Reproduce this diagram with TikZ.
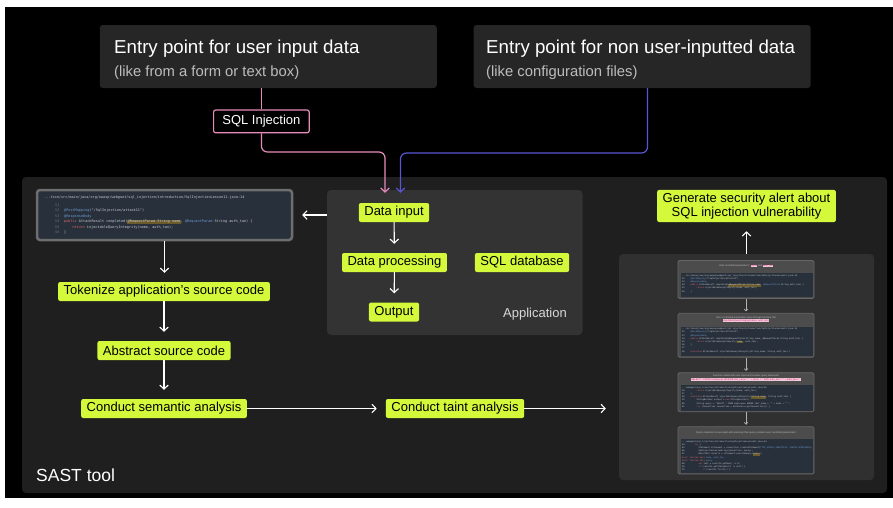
\documentclass[tikz,border=0pt]{standalone}
\usepackage{fontspec}
\setmainfont{Liberation Sans}
\setmonofont{DejaVu Sans Mono}
\usetikzlibrary{arrows.meta, positioning, calc}

\definecolor{sastbg}{HTML}{1F1F1F}
\definecolor{entrybg}{HTML}{262626}
\definecolor{appbg}{HTML}{333333}
\definecolor{scanbg}{HTML}{303030}
\definecolor{stepfill}{HTML}{D4F93B}
\definecolor{injpink}{HTML}{E68CBB}
\definecolor{cfgblue}{HTML}{5A55D2}
\definecolor{subgray}{HTML}{BDBDBD}
\definecolor{codebg}{HTML}{28303B}
\definecolor{codeframe}{HTML}{6E6E6E}
\definecolor{thumbfill}{HTML}{4C4C4C}
\definecolor{thumbframe}{HTML}{666666}
\definecolor{codetext}{HTML}{C8CCD2}
\definecolor{linenum}{HTML}{6A7280}
\definecolor{kwred}{HTML}{D9686B}
\definecolor{annblue}{HTML}{6C9BD2}
\definecolor{hlolive}{HTML}{6B5A2A}
\definecolor{hlpink}{HTML}{F4C9DC}
\definecolor{hlred}{HTML}{C3306B}

\newcommand{\taintmark}[1]{{\fboxsep=0.3pt\colorbox{hlpink}{\textcolor{hlred}{#1}}}}
\newcommand{\srcmark}[1]{{\fboxsep=0.4pt\colorbox{hlolive}{#1}}}

\begin{document}
\begin{tikzpicture}[
    x=1pt, y=-1pt,
    stepnode/.style={fill=stepfill, text=black, rounded corners=2pt, inner xsep=5.5pt, inner ysep=0pt,
        minimum height=19pt, font=\fontsize{13}{14}\selectfont},
    flow/.style={white, line width=1.1pt, shorten >=9pt, -{Straight Barb[length=4pt,width=8.5pt]}},
    thinflow/.style={gray!60!white, line width=0.7pt, shorten >=1.5pt, -{Straight Barb[length=1.8pt,width=3.5pt]}},
    feed/.style={line width=1.2pt, rounded corners=6pt, shorten >=10pt, -{Straight Barb[length=4pt,width=8.5pt]}},
    panel/.style={inner sep=0pt, rounded corners=4pt},
    entrybox/.style={fill=entrybg, rounded corners=3pt, inner sep=0pt, minimum width=337pt, minimum height=63pt},
    titletext/.style={text=white, inner sep=0pt, font=\fontsize{18.7}{20}\selectfont},
    subtext/.style={text=subgray, inner sep=0pt, font=\fontsize{14.8}{16}\selectfont},
    codeshot/.style={fill=codebg, draw=codeframe, line width=2.5pt, rounded corners=3pt, inner sep=0pt},
    thumb/.style={fill=thumbfill, draw=thumbframe, line width=0.8pt, rounded corners=1.5pt, minimum width=136pt, inner sep=0pt},
    codearea/.style={fill=codebg, inner sep=0pt, minimum width=132pt},
    thumbhead/.style={text=subgray, font=\fontsize{2.5}{3.4}\selectfont, inner sep=0pt, align=center},
    thumbcode/.style={text=codetext, font=\ttfamily\fontsize{2.1}{3.2}\selectfont, inner sep=0pt, align=left, anchor=north west}
]

% Frame
\fill[white] (0,0) rectangle (893,507);
\fill[black] (5,7) rectangle (893,498);

% Entry points
\node[entrybox] (userentry) at (268.25,56.5) {};
\node[entrybox] (otherentry) at (642.1,56.5) {};
\node[titletext, anchor=base west] at (114,53) {Entry point for user input data};
\node[subtext, anchor=base west] at (114,76.5) {(like from a form or text box)};
\node[titletext, anchor=base west] at (486,53) {Entry point for non user-inputted data};
\node[subtext, anchor=base west] at (486,76.5) {(like configuration files)};

\node[draw=injpink, line width=1.2pt, rounded corners=2pt, text=white, inner sep=0pt,
      minimum width=95.6pt, minimum height=22.7pt, font=\fontsize{13}{14}\selectfont] (sqlinj) at (261.4,121.4) {SQL Injection};

% SAST tool
\node[panel, fill=sastbg, minimum width=865pt, minimum height=316pt] (sast) at (454.5,335) {};
\node[text=white, anchor=base west, inner sep=0pt, font=\fontsize{17.5}{19}\selectfont] at (36,481.5) {SAST tool};

% Application
\node[panel, fill=appbg, minimum width=255.5pt, minimum height=145pt] (app) at (454.75,262.5) {};
\node[stepnode] (datain) at (394,212.5) {Data input};
\node[stepnode] (dataproc) at (394.5,262.5) {Data processing};
\node[stepnode] (sqldb) at (522,262.5) {SQL database};
\node[stepnode] (output) at (394,312) {Output};
\node[text=white!85!black, anchor=base west, inner sep=0pt, font=\fontsize{13}{14}\selectfont] at (503,317.5) {Application};

% Feeds into the application
\coordinate (pinkturn) at (261.4,152);
\coordinate (blueturn) at (400.5,153);
\draw[injpink, line width=1.2pt] (sqlinj.north |- userentry.south) -- (sqlinj.north);
\draw[feed, injpink] (sqlinj.south) -- (pinkturn) -| ([xshift=-9pt]datain.north);
\draw[feed, cfgblue] ([xshift=5.4pt]otherentry.south) |- (blueturn) -- ([xshift=6.5pt]datain.north);

% Source code screenshot
\node[codeshot, minimum width=255pt, minimum height=50pt] (srccode) at (164.5,215) {};
\node[anchor=north west, inner sep=0pt, align=left, text=codetext, font=\ttfamily\fontsize{3.5}{5.5}\selectfont]
    at (44,195.3) {%
    ...tion/src/main/java/org/owasp/webgoat/sql\_injection/introduction/SqlInjectionLesson11.java:14\\[2.5pt]
    \hspace*{11pt}\makebox[9pt][l]{\color{linenum}51}\\
    \hspace*{11pt}\makebox[9pt][l]{\color{linenum}52}\textcolor{annblue}{@PostMapping}("/SqlInjection/attack11")\\
    \hspace*{11pt}\makebox[9pt][l]{\color{linenum}53}\textcolor{annblue}{@ResponseBody}\\
    \hspace*{11pt}\makebox[9pt][l]{\color{linenum}54}\textcolor{kwred}{public} AttackResult completed(\srcmark{@RequestParam String name}, \textcolor{annblue}{@RequestParam} String auth\_tan) \{\\
    \hspace*{11pt}\makebox[9pt][l]{\color{linenum}55}\hspace*{8pt}\textcolor{kwred}{return} injectableQueryIntegrity(name, auth\_tan);\\
    \hspace*{11pt}\makebox[9pt][l]{\color{linenum}56}\}};

% Left column
\node[stepnode] (tokenize) at (164,291.5) {Tokenize application's source code};
\node[stepnode] (abstract) at (164,350.5) {Abstract source code};
\node[stepnode] (semantic) at (164,408.5) {Conduct semantic analysis};
\node[stepnode] (taint) at (455,408.5) {Conduct taint analysis};

% Scan results
\node[panel, fill=scanbg, minimum width=255pt, minimum height=226pt] (scan) at (746.5,367) {};
\node[stepnode, align=center, inner ysep=3pt, font=\fontsize{13}{14}\selectfont] (alert) at (746.5,206)
    {Generate security alert about\\SQL injection vulnerability};

\node[thumb, minimum height=38pt] (thumb1) at (746,279.5) {};
\node[thumbhead] at (746,266) {User controlled parameters: \taintmark{name} and \taintmark{auth\_tan}};
\node[codearea, minimum height=24pt] (code1) at (746.5,285) {};
\node[thumbcode] at ([xshift=1.5pt,yshift=-1.5pt]code1.north west) {%
    .../src/main/java/org/owasp/webgoat/sql\_injection/introduction/SqlInjectionLesson11.java:14\\
    52\hspace{6pt}\textcolor{annblue}{@PostMapping}("/SqlInjection/attack11")\\
    53\hspace{6pt}\textcolor{annblue}{@ResponseBody}\\
    54\hspace{6pt}\textcolor{kwred}{public} AttackResult completed(\srcmark{@RequestParam String name}, \textcolor{annblue}{@RequestParam} String auth\_tan) \{\\
    55\hspace{12pt}\textcolor{kwred}{return} injectableQueryIntegrity(name, auth\_tan);\\
    56\hspace{6pt}\}};

\node[thumb, minimum height=44pt] (thumb2) at (746,335.3) {};
\node[thumbhead] at (746,319.3) {User controlled parameters pass through function call\\\taintmark{injectableQueryIntegrity(name, auth\_tan)}};
\node[codearea, minimum height=29.3pt] (code2) at (746.5,341.3) {};
\node[thumbcode] at ([xshift=1.5pt,yshift=-1.5pt]code2.north west) {%
    .../src/main/java/org/owasp/webgoat/sql\_injection/introduction/SqlInjectionLesson11.java:14\\
    52\hspace{6pt}\textcolor{annblue}{@PostMapping}("/SqlInjection/attack11")\\
    53\hspace{6pt}\textcolor{annblue}{@ResponseBody}\\
    54\hspace{6pt}\textcolor{kwred}{public} AttackResult completed(@RequestParam String name, @RequestParam String auth\_tan) \{\\
    55\hspace{12pt}\textcolor{kwred}{return} injectableQueryIntegrity(\srcmark{name}, auth\_tan);\\
    56\hspace{6pt}\}\\
    57\\
    58\hspace{6pt}\textcolor{kwred}{protected} AttackResult injectableQueryIntegrity(String name, String auth\_tan) \{};

\node[thumb, minimum height=39pt] (thumb3) at (746,392.2) {};
\node[thumbhead] at (746,378) {Function called with user input and creates query statement\\\taintmark{SELECT * FROM employees WHERE last\_name = '" + name + "' AND auth\_tan = '" + auth\_tan + "'}};
\node[codearea, minimum height=25.7pt] (code3) at (746.5,397.9) {};
\node[thumbcode] at ([xshift=1.5pt,yshift=-1.5pt]code3.north west) {%
    .../webgoat/sql\_injection/introduction/SqlInjectionLesson11.java:56\\
    56\hspace{12pt}\textcolor{kwred}{return} injectableQueryIntegrity(name, auth\_tan);\\
    57\hspace{6pt}\}\\
    58\hspace{6pt}\textcolor{kwred}{protected} AttackResult injectableQueryIntegrity(\srcmark{String name}, String auth\_tan) \{\\
    59\hspace{12pt}StringBuilder output = \textcolor{kwred}{new} StringBuilder();\\
    60\hspace{12pt}String query = "SELECT * FROM employees WHERE last\_name = '" + name + "'";\\
    61\hspace{12pt}\textcolor{kwred}{try} (Connection connection = dataSource.getConnection()) \{};

\node[thumb, minimum height=47.3pt] (thumb4) at (746,450.3) {};
\node[thumbhead] at (746,432.5) {Query statement is executed with warnings that query contains user controlled parameters};
\node[codearea, minimum height=33.7pt] (code4) at (746.5,455.8) {};
\node[thumbcode] at ([xshift=1.5pt,yshift=-1.5pt]code4.north west) {%
    .../webgoat/sql\_injection/introduction/SqlInjectionLesson11.java:64\\
    64\hspace{10pt}\textcolor{kwred}{try} \{\\
    65\hspace{14pt}Statement statement = connection.createStatement(\textcolor{annblue}{TYPE\_SCROLL\_SENSITIVE, CONCUR\_UPDATABLE});\\
    66\hspace{14pt}SqlInjectionLesson8.log(connection, query);\\
    67\hspace{14pt}ResultSet results = statement.executeQuery(\srcmark{query});\\
    \textcolor{kwred}{Sast: tainted data} \textcolor{annblue}{name, auth\_tan}\\
    \textcolor{kwred}{Sast: tainted data} \textcolor{annblue}{query}\\
    68\hspace{14pt}\textcolor{kwred}{var} test = results.getRow() != 0;\\
    69\hspace{14pt}\textcolor{kwred}{if} (results.getStatement() != null) \{\\
    70\hspace{18pt}\textcolor{kwred}{if} (results.first()) \{};

% Arrows
\draw[flow] (srccode.east -| app.west) -- (srccode.east);
\draw[flow] (datain) -- (dataproc);
\draw[flow] (dataproc) -- (output);
\draw[flow] (srccode.south) -- (srccode.south |- tokenize.north);
\draw[flow] (tokenize) -- (abstract);
\draw[flow] (abstract) -- (semantic);
\draw[flow] (semantic) -- (taint);
\draw[flow, shorten >=13pt] (taint.east) -- (taint.east -| scan.west);
\draw[flow] (scan.north) -- (alert.south);
\draw[thinflow] (thumb1) -- (thumb2);
\draw[thinflow] (thumb2) -- (thumb3);
\draw[thinflow] (thumb3) -- (thumb4);

\end{tikzpicture}
\end{document}
